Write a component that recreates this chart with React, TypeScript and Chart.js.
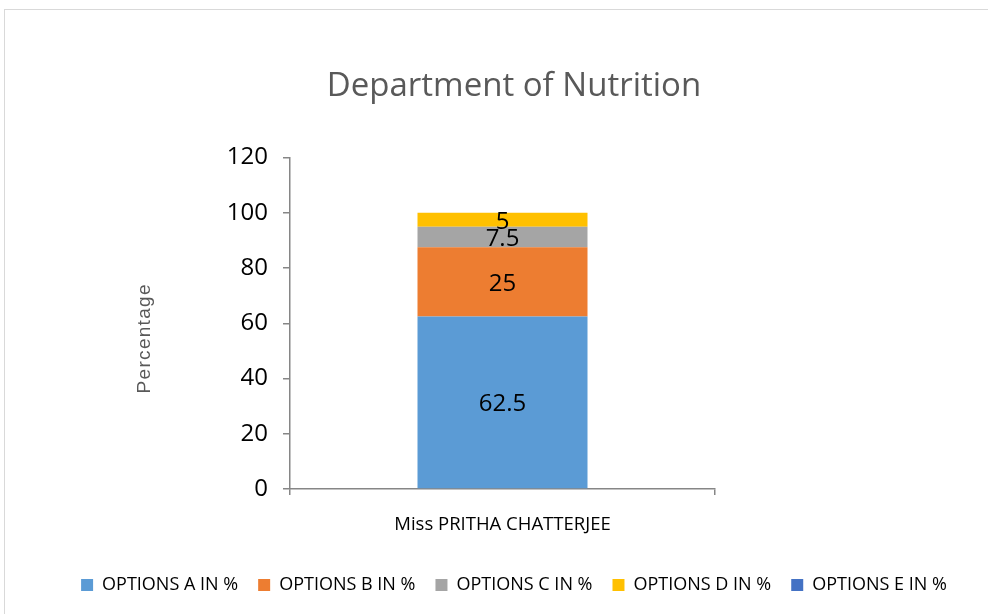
import React, { useEffect, useRef } from "react";
import { Chart, registerables } from "chart.js";

Chart.register(...registerables);

const categories = ["Miss PRITHA CHATTERJEE"];
const seriesNames = ["OPTIONS A IN %", "OPTIONS B IN %", "OPTIONS C IN %", "OPTIONS D IN %", "OPTIONS E IN %"];
const optionA = [62.5];
const optionB = [25];
const optionC = [7.5];
const optionD = [5];
const optionE = [0];
const seriesColors = ["#5B9BD5", "#ED7D31", "#A5A5A5", "#FFC000", "#4472C4"];
const yTicks = [0, 20, 40, 60, 80, 100, 120];
const yTitle = "Percentage";

const FONT = "'Open Sans', 'Noto Sans', sans-serif";

const valueLabels = {
  id: "valueLabels",
  afterDatasetsDraw(chart: any) {
    const ctx = chart.ctx;
    ctx.save();
    ctx.font = `24px ${FONT}`;
    ctx.fillStyle = "#000000";
    ctx.textAlign = "center";
    ctx.textBaseline = "middle";
    chart.data.datasets.forEach((ds: any, i: number) => {
      const meta = chart.getDatasetMeta(i);
      meta.data.forEach((el: any, j: number) => {
        const v = ds.data[j];
        if (!v) return;
        ctx.fillText(String(v), el.x, (el.y + el.base) / 2 + 2);
      });
    });
    ctx.restore();
  },
};

const yTitlePlugin = {
  id: "yTitlePlugin",
  afterDraw(chart: any) {
    const ctx = chart.ctx;
    const area = chart.chartArea;
    ctx.save();
    ctx.font = `19px 'Liberation Sans', Arial, sans-serif`;
    (ctx as any).letterSpacing = "1.3px";
    ctx.fillStyle = "#595959";
    ctx.textAlign = "center";
    ctx.textBaseline = "middle";
    ctx.translate(145, (area.top + area.bottom) / 2 + 15);
    ctx.rotate(-Math.PI / 2);
    ctx.fillText(yTitle, 0, 0);
    ctx.restore();
  },
};

export default function App() {
  const ref = useRef<HTMLCanvasElement>(null);
  useEffect(() => {
    const values = [optionA, optionB, optionC, optionD, optionE];
    const chart = new Chart(ref.current!, {
      type: "bar",
      data: {
        labels: categories,
        datasets: seriesNames.map((name, i) => ({
          label: name,
          data: values[i],
          backgroundColor: seriesColors[i],
          borderWidth: 0,
          barPercentage: 0.4,
          categoryPercentage: 1,
          yAxisID: "y",
        })),
      },
      options: {
        animation: false,
        responsive: false,
        layout: { padding: { left: 40, right: 0, top: 0, bottom: 10 } },
        plugins: {
          tooltip: { enabled: false },
          title: {
            display: true,
            text: "Department of Nutrition",
            color: "#595959",
            font: { family: FONT, size: 33, weight: "normal" },
            padding: { top: 67, bottom: 51 },
          },
          legend: {
            position: "bottom",
            labels: {
              boxWidth: 12,
              boxHeight: 12,
              padding: 20,
              color: "#000000",
              font: { family: FONT, size: 18 },
            },
          },
        },
        scales: {
          x: {
            stacked: true,
            grid: { offset: true, drawOnChartArea: false, tickLength: 6, color: "#868686", lineWidth: 1.5 },
            border: { color: "#868686", width: 1.5 },
            ticks: { color: "#000000", font: { family: FONT, size: 18.5 }, padding: 19 },
            afterFit: (s: any) => { s.height = 67; },
          },
          y: {
            stacked: true,
            min: 0,
            max: 120,
            afterBuildTicks: (s: any) => { s.ticks = yTicks.map((v) => ({ value: v })); },
            grid: { drawOnChartArea: false, tickLength: 7, color: "#868686", lineWidth: 1.5 },
            border: { color: "#868686", width: 1.5 },
            ticks: { color: "#000000", font: { family: FONT, size: 24 }, padding: 15 },
            title: { display: false },
            afterFit: (s: any) => { s.width = 250; },
          },
          y2: {
            position: "right",
            display: true,
            grid: { display: false },
            border: { display: false },
            ticks: { display: false },
            afterFit: (s: any) => { s.width = 273; },
          },
        },
      },
      plugins: [valueLabels, yTitlePlugin],
    } as any);
    return () => chart.destroy();
  }, []);
  return (
    <div style={{ position: "absolute", left: 0, top: 0, width: 988, height: 614, background: "#fff", overflow: "hidden" }}>
      <div style={{ position: "absolute", left: 4, top: 9, width: 1100, height: 700, border: "1.5px solid #d9d9d9", boxSizing: "border-box" }} />
      <canvas ref={ref} width={988} height={614} style={{ position: "absolute", left: 0, top: 0 }} />
    </div>
  );
}
